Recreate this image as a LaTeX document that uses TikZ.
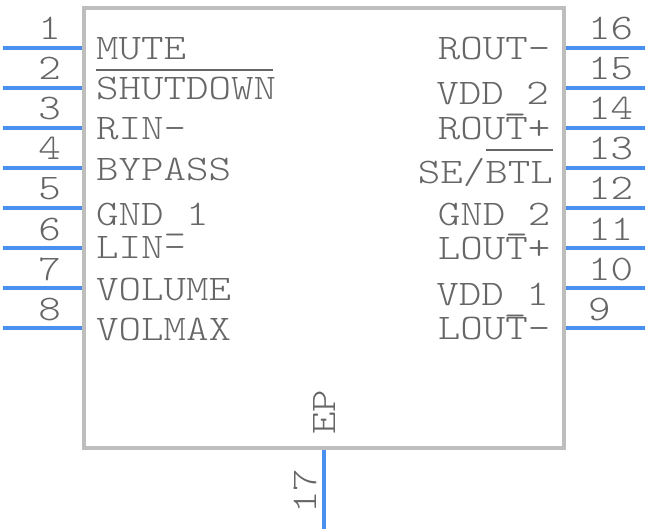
\documentclass[tikz,border=0pt]{standalone}
\usepackage{fontspec}
\usetikzlibrary{calc, positioning}
\newfontfamily\pinfont{Latin Modern Mono Light}[FakeStretch=1.19]
\newcommand{\pinus}{\raisebox{-5pt}{\_}}
\definecolor{pinBlue}{HTML}{4A90F0}
\definecolor{bodyGray}{HTML}{BEBEBE}
\definecolor{textGray}{HTML}{666666}
\tikzstyle{chipbody} = [%
  rectangle,
  draw=bodyGray,
  line width=4pt,
  minimum width=480pt,
  minimum height=440pt,
  inner sep=0pt
]
\tikzstyle{pintext} = [%
  text=textGray,
  inner sep=0pt,
  font=\pinfont\fontsize{36}{36}\selectfont
]

\begin{document}
\begin{tikzpicture}[%
  x=1pt,
  y=-1pt,
  pinline/.style={draw=pinBlue,line width=4pt},
  barline/.style={draw=textGray,line width=2pt}
]
  \useasboundingbox (0,0) rectangle (648,532);

  % Body
  \node[chipbody] (U1) at (324,228) {};

  % Left pins
  \foreach \n/\y in {1/48,2/88,3/128,4/168,5/208,6/248,7/288,8/328} {
    \coordinate (LA\n) at (3,\y);
    \coordinate (LB\n) at (82,\y);
    \draw[pinline] (LA\n) -- (LB\n);
    \node[pintext,anchor=base east] (LN\n) at (61,\y-8) {\n};
  }

  % Right pins
  \foreach \n/\y in {16/48,15/88,14/128,13/168,12/208,11/248,10/288,9/328} {
    \coordinate (RA\n) at (566,\y);
    \coordinate (RB\n) at (645,\y);
    \draw[pinline] (RA\n) -- (RB\n);
    \node[pintext,anchor=base west] (RN\n) at (588,\y-8) {\n};
  }

  % Left names
  \foreach \n/\t/\y in {1/MUTE/60,2/SHUTDOWN/100,3/RIN-/140,4/BYPASS/180,5/GND\pinus 1/225,6/LIN-/258,7/VOLUME/300,8/VOLMAX/340} {
    \node[pintext,anchor=base west] (LT\n) at (96,\y) {\t};
  }

  % Right names
  \foreach \n/\t/\y in {16/ROUT-/60,14/ROUT+/140,12/GND\pinus 2/225,11/LOUT+/259,9/LOUT-/339} {
    \node[pintext,anchor=base east] (RT\n) at (550.5,\y) {\t};
  }
  \node[pintext,anchor=base east] (RT15) at (549,105) {VDD\pinus 2};
  \node[pintext,anchor=base east] (RT10) at (549,305) {VDD\pinus 1};
  \node[pintext,anchor=base east] (RT13) at (553,183) {SE/BTL};

  % Bars
  \draw[barline] (96,70) -- (273,70);
  \draw[barline] (486,150) -- (553,150);

  % Bottom pin
  \coordinate (BA) at (324,450);
  \coordinate (BB) at (324,529);
  \draw[pinline] (BA) -- (BB);
  \node[pintext,rotate=90,anchor=base west] (EP) at (335,435) {EP};
  \node[pintext,rotate=90,anchor=base west] (BN) at (316,514) {17};
\end{tikzpicture}
\end{document}
